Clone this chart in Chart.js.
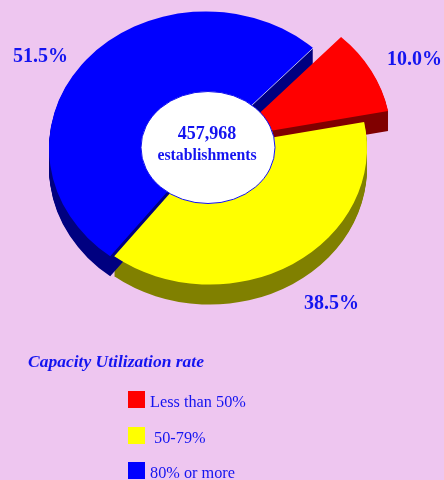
<!DOCTYPE html>
<html>
<head>
<meta charset="utf-8">
<style>
  html, body { margin: 0; padding: 0; background: #eec6f0; overflow: hidden; }
  canvas { display: block; }
</style>
<script src="https://cdn.jsdelivr.net/npm/chart.js@4/dist/chart.umd.min.js"></script>
</head>
<body>
<canvas id="myChart" width="444" height="480"></canvas>
<script>
const categories = ["Less than 50%", " 50-79%", "80% or more"];
const shares = [10.0, 38.5, 51.5];
const shareLabels = ["10.0%", "38.5%", "51.5%"];
const faceColors = ["#ff0000", "#ffff00", "#0000ff"];
const sideColors = ["#800000", "#808000", "#000080"];
const centerLines = ["457,968", "establishments"];
const legendTitle = "Capacity Utilization rate";

const TEXT = "#1414f0";
const SERIF = '"Liberation Serif", serif';

// pie is a circle for chart.js, squashed here to look like a tilted disc
const squash = 0.87;
const centerY = 148;
const depth = 20;
// how far each slice is pulled out of the pie, in px
const pullX = [26, 2, -2];
const pullY = [-11, 0, 0];

const pie3d = {
  id: "pie3d",
  afterDatasetsUpdate(chart) {
    chart.getDatasetMeta(0).data.forEach((arc, i) => {
      arc.x += pullX[i];
      arc.y += pullY[i] / squash;
    });
  },
  beforeDatasetsDraw(chart) {
    const ctx = chart.ctx;
    const arcs = chart.getDatasetMeta(0).data;
    const cy = (chart.chartArea.top + chart.chartArea.bottom) / 2;
    ctx.save();
    ctx.translate(0, centerY);
    ctx.scale(1, squash);
    ctx.translate(0, -cy);
    // side wall: the same arcs stacked downwards in the dark colour
    arcs.forEach((arc, i) => {
      const face = arc.options;
      arc.options = { ...face, backgroundColor: sideColors[i], borderWidth: 0 };
      for (let d = depth; d > 0; d--) {
        ctx.save();
        ctx.translate(0, d / squash);
        arc.draw(ctx);
        ctx.restore();
      }
      arc.options = face;
    });
  },
  afterDatasetsDraw(chart) {
    const ctx = chart.ctx;

    // thin light seam on the open edge of the blue slice
    const blue = chart.getDatasetMeta(0).data[2];
    ctx.beginPath();
    ctx.moveTo(blue.x, blue.y);
    ctx.lineTo(
      blue.x + Math.cos(blue.endAngle) * blue.outerRadius,
      blue.y + Math.sin(blue.endAngle) * blue.outerRadius
    );
    ctx.strokeStyle = "#c4c4f4";
    ctx.lineWidth = 1;
    ctx.stroke();
    ctx.restore();

    ctx.beginPath();
    ctx.ellipse(208, 147.5, 67, 56, 0, 0, Math.PI * 2);
    ctx.fillStyle = "#ffffff";
    ctx.fill();
    ctx.strokeStyle = "#1414f0";
    ctx.lineWidth = 1;
    ctx.stroke();

    ctx.fillStyle = TEXT;
    ctx.textBaseline = "alphabetic";
    ctx.textAlign = "center";
    ctx.font = "bold 18px " + SERIF;
    ctx.fillText(centerLines[0], 207, 138.5);
    ctx.font = "bold 15.8px " + SERIF;
    ctx.fillText(centerLines[1], 207, 160);

    ctx.font = "bold 20px " + SERIF;
    ctx.textAlign = "left";
    ctx.fillText(shareLabels[2], 13, 62);
    ctx.fillText(shareLabels[0], 387, 65);
    ctx.fillText(shareLabels[1], 304, 309);

    ctx.font = "italic bold 17.5px " + SERIF;
    ctx.fillText(legendTitle, 28, 367);

    const rowY = [391, 427, 462];
    ctx.font = "16.3px " + SERIF;
    categories.forEach((name, i) => {
      ctx.fillStyle = faceColors[i];
      ctx.fillRect(128, rowY[i], 17, 17);
      ctx.fillStyle = TEXT;
      ctx.fillText(name, 150, rowY[i] + 16);
    });
  },
};

const chart = new Chart(document.getElementById("myChart").getContext("2d"), {
  type: "pie",
  data: {
    labels: categories,
    datasets: [
      {
        data: shares,
        backgroundColor: faceColors,
        borderWidth: 0,
        clip: false,
      },
    ],
  },
  options: {
    responsive: false,
    animation: false,
    rotation: 43,
    layout: { padding: { left: 51, right: 79, top: 0, bottom: 166 } },
    plugins: {
      legend: { display: false },
      tooltip: { enabled: false },
    },
  },
  plugins: [pie3d],
});
</script>
</body>
</html>
